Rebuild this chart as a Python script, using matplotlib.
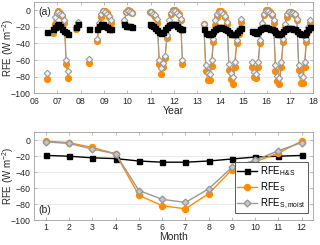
import numpy as np
import matplotlib
matplotlib.use('Agg')
import matplotlib.pyplot as plt
from matplotlib.mathtext import MathTextParser

plt.rcParams['font.family'] = ['Liberation Sans', 'DejaVu Sans']
plt.rcParams['mathtext.fontset'] = 'custom'
plt.rcParams['mathtext.rm'] = 'Liberation Sans'
plt.rcParams['mathtext.it'] = 'Liberation Sans'

# monthly series (a): continuous segments, start (year, month)
seg_start = [(2006, 7), (2006, 10), (2007, 10), (2008, 5), (2008, 9),
             (2009, 11), (2010, 12), (2013, 4), (2015, 5)]

rfe_hs = [
    [-26],
    [-23, -20, -18, -17, -19, -22, -25, -26, -28],
    [-20, -17],
    [-23],
    [-23, -19, -16, -17, -19, -20, -22, -23],
    [-17, -19, -19, -19, -20],
    [-17, -18, -19, -21, -24, -26, -27, -26, -23, -20, -18, -16, -16, -17, -19, -21, -22, -23],
    [-23, -27, -28, -28, -27, -25, -23, -21, -20, -20, -21, -22, -24, -26, -28, -29, -28, -26, -24, -21],
    [-25, -26, -27, -25, -23, -21, -20, -20, -21, -22, -23, -24, -26, -28, -28, -27,
     -25, -23, -21, -21, -21, -22, -23, -25, -27, -28, -29, -28, -26, -23, -20],
]
rfe_s = [
    [-83],
    [-27, -16, -5, -1, -3, -7, -15, -65, -81],
    [-22, -17],
    [-64],
    [-37, -20, -8, -1, -1, -3, -8, -15],
    [-14, -2, 0, -1, -3],
    [-2, -2, -5, -8, -15, -65, -77, -68, -58, -33, -18, -5, 0, 0, -2, -5, -12, -65],
    [-17, -73, -84, -84, -67, -38, -18, -8, -1, -1, -3, -8, -17, -72, -83, -89, -68, -40, -28, -14],
    [-68, -80, -82, -68, -40, -20, -6, 0, 0, -2, -6, -15, -73, -85, -89, -68,
     -38, -20, -8, -2, -2, -3, -6, -12, -72, -87, -88, -68, -38, -25, -15],
]
rfe_sm = [
    [-76],
    [-25, -8, -3, -2, -4, -6, -12, -60, -73],
    [-20, -14],
    [-59],
    [-34, -15, -5, -1, -2, -4, -7, -12],
    [-12, -2, -1, -2, -3],
    [-2, -2, -4, -6, -10, -60, -70, -64, -55, -30, -12, -3, -1, -1, -3, -6, -10, -60],
    [-16, -66, -75, -77, -60, -35, -12, -5, -2, -2, -4, -7, -14, -65, -76, -80, -62, -36, -22, -11],
    [-62, -74, -77, -62, -36, -15, -4, -1, -1, -3, -5, -12, -66, -79, -82, -62,
     -34, -16, -5, -2, -3, -3, -5, -10, -66, -78, -80, -62, -34, -20, -12],
]
year_ticks = list(range(2006, 2019))

# monthly means (b)
months = list(range(1, 13))
mean_hs = [-19, -20, -22, -23, -26, -27.5, -27.5, -26, -23.5, -21, -20, -19]
mean_s = [-1, -3, -9, -17, -69, -82, -86, -67, -37, -27, -16, -1]
mean_sm = [-2, -4, -11, -17, -63, -74, -78, -61, -34, -25, -13, -3]

orange = '#ff8c00'
gray = '#999999'
grid_c = '#e8e8e8'
spine_c = '#a0a0a0'
txt_c = '#262626'

# '&' inside mathtext: pick a form the parser accepts
lab_hs = 'RFE$_{H&S}$'
try:
    MathTextParser('path').parse(lab_hs)
except Exception:
    lab_hs = 'RFE$_{H+S}$'

# build x with NaN between segments
def build(series):
    xs, ys = [], []
    for (yr, mo), vals in zip(seg_start, series):
        for k, v in enumerate(vals):
            m = mo - 1 + k
            xs.append(yr + m // 12 + ((m % 12) + 0.5) / 12)
            ys.append(v)
        xs.append(np.nan)
        ys.append(np.nan)
    return np.array(xs), np.array(ys)

fig = plt.figure(figsize=(3.2, 2.45), dpi=100)
ax1 = fig.add_axes([0.107, 0.619, 0.872, 0.373])
ax2 = fig.add_axes([0.107, 0.102, 0.872, 0.358])

x, y = build(rfe_s)
ax1.plot(x, y, '-o', color=orange, lw=0.8, ms=4.2, mec=orange, zorder=3)
x, y = build(rfe_sm)
ax1.plot(x, y, '-D', color=gray, lw=0.8, ms=3.3, mfc='#f2f2f2', mec=gray, mew=0.8, zorder=4)
x, y = build(rfe_hs)
ax1.plot(x, y, '-s', color='black', lw=0.8, ms=3.6, zorder=5)
ax1.set_xlim(2006, 2018)
ax1.set_xticks(year_ticks)
ax1.set_xticklabels(['%02d' % (t % 100) for t in year_ticks])
ax1.set_xlabel('Year', fontsize=7.5, color=txt_c, labelpad=0)
ax1.text(0.015, 0.95, '(a)', transform=ax1.transAxes, fontsize=7.5, va='top', color=txt_c)

ax2.plot(months, mean_hs, '-s', color='black', lw=1.0, ms=3.6, label=lab_hs)
ax2.plot(months, mean_s, '-o', color=orange, lw=1.0, ms=4.3, label='RFE$_{S}$')
ax2.plot(months, mean_sm, '-D', color=gray, lw=1.0, ms=3.5, mfc='#c8c8c8', mec=gray,
         label='RFE$_{S,moist}$')
ax2.set_xlim(0.5, 12.5)
ax2.set_xticks(months)
ax2.set_xlabel('Month', fontsize=7.5, color=txt_c, labelpad=0)
ax2.text(0.015, 0.06, '(b)', transform=ax2.transAxes, fontsize=7.5, va='bottom', color=txt_c)
leg = ax2.legend(loc='lower right', bbox_to_anchor=(0.997, 0.02), fontsize=7,
                 handlelength=2.0, handletextpad=0.3, borderpad=0.25, labelspacing=0.25,
                 fancybox=False, framealpha=1)
leg.get_frame().set_edgecolor('#404040')
leg.get_frame().set_linewidth(0.6)

for ax in (ax1, ax2):
    ax.set_ylim(-100, 10)
    ax.set_yticks(range(-100, 1, 20))
    ax.set_ylabel('RFE (W m$^{-2}$)', fontsize=7, color=txt_c)
    ax.yaxis.set_label_coords(-0.066, 0.5)
    ax.yaxis.grid(True, color=grid_c, lw=0.6)
    ax.set_axisbelow(True)
    ax.tick_params(direction='in', length=2, width=0.5, labelsize=6.3, colors=txt_c,
                   top=True, right=True, pad=2.5, color=spine_c)
    for s in ax.spines.values():
        s.set_color(spine_c)
        s.set_linewidth(0.6)

fig.savefig('out.png', dpi=100)
